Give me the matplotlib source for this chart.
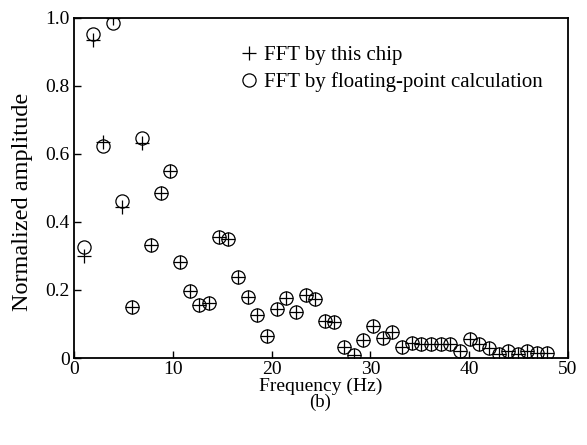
import numpy as np
import matplotlib.pyplot as plt

plt.rcParams['font.family'] = ['Liberation Serif', 'DejaVu Serif']

# FFT bin index (resolution ~0.977 Hz)
bin_index = np.arange(1, 50)
df = 1000.0 / 1024.0

# normalized amplitude from floating-point FFT (circles)
amp_float = [0.327, 0.953, 0.624, 0.986, 0.462, 0.151, 0.646, 0.332, 0.484, 0.551,
             0.281, 0.197, 0.156, 0.161, 0.357, 0.349, 0.239, 0.180, 0.127, 0.065,
             0.143, 0.176, 0.136, 0.185, 0.173, 0.109, 0.105, 0.033, 0.009, 0.053,
             0.093, 0.060, 0.077, 0.033, 0.044, 0.041, 0.041, 0.041, 0.040, 0.022,
             0.055, 0.040, 0.030, 0.012, 0.022, 0.012, 0.020, 0.015, 0.015]

# normalized amplitude from the chip (pluses) - differs only at a few bins
amp_chip = list(amp_float)
amp_chip[0] = 0.300
amp_chip[1] = 0.935
amp_chip[2] = 0.635
amp_chip[3] = 1.000
amp_chip[4] = 0.444
amp_chip[6] = 0.632

freq = bin_index * df

fig = plt.figure(figsize=(5.87, 4.45), dpi=100)
ax = fig.add_axes([0.126, 0.1955, 0.8416, 0.7641])

ax.plot(freq, amp_chip, '+', color='black', markersize=10, markeredgewidth=0.9,
        label='FFT by this chip')
ax.plot(freq, amp_float, 'o', color='black', mfc='none', markersize=9.5,
        markeredgewidth=0.9, label='FFT by floating-point calculation')

ax.set_xlim(0, 50)
ax.set_ylim(0, 1.0)
ax.set_xticks([0, 10, 20, 30, 40, 50])
ax.set_yticks([0, 0.2, 0.4, 0.6, 0.8, 1.0])
ax.set_yticklabels(['0', '0.2', '0.4', '0.6', '0.8', '1.0'])
ax.tick_params(direction='in', length=5, width=1, labelsize=14, pad=3)
ax.tick_params(axis='x', pad=2)
for s in ax.spines.values():
    s.set_linewidth(1.3)

ax.set_xlabel('Frequency (Hz)', fontsize=14, labelpad=0)
ax.set_ylabel('Normalized amplitude', fontsize=17.5)
ax.yaxis.set_label_coords(-0.083, 0.46)
fig.text(0.545, 0.095, '(b)', ha='center', va='center', fontsize=13.5)

ax.legend(loc='upper left', bbox_to_anchor=(0.325, 0.943), frameon=False,
          fontsize=15, handlelength=0.6, handletextpad=0.4, labelspacing=0.35,
          borderaxespad=0)

fig.savefig('out.png', dpi=100)
